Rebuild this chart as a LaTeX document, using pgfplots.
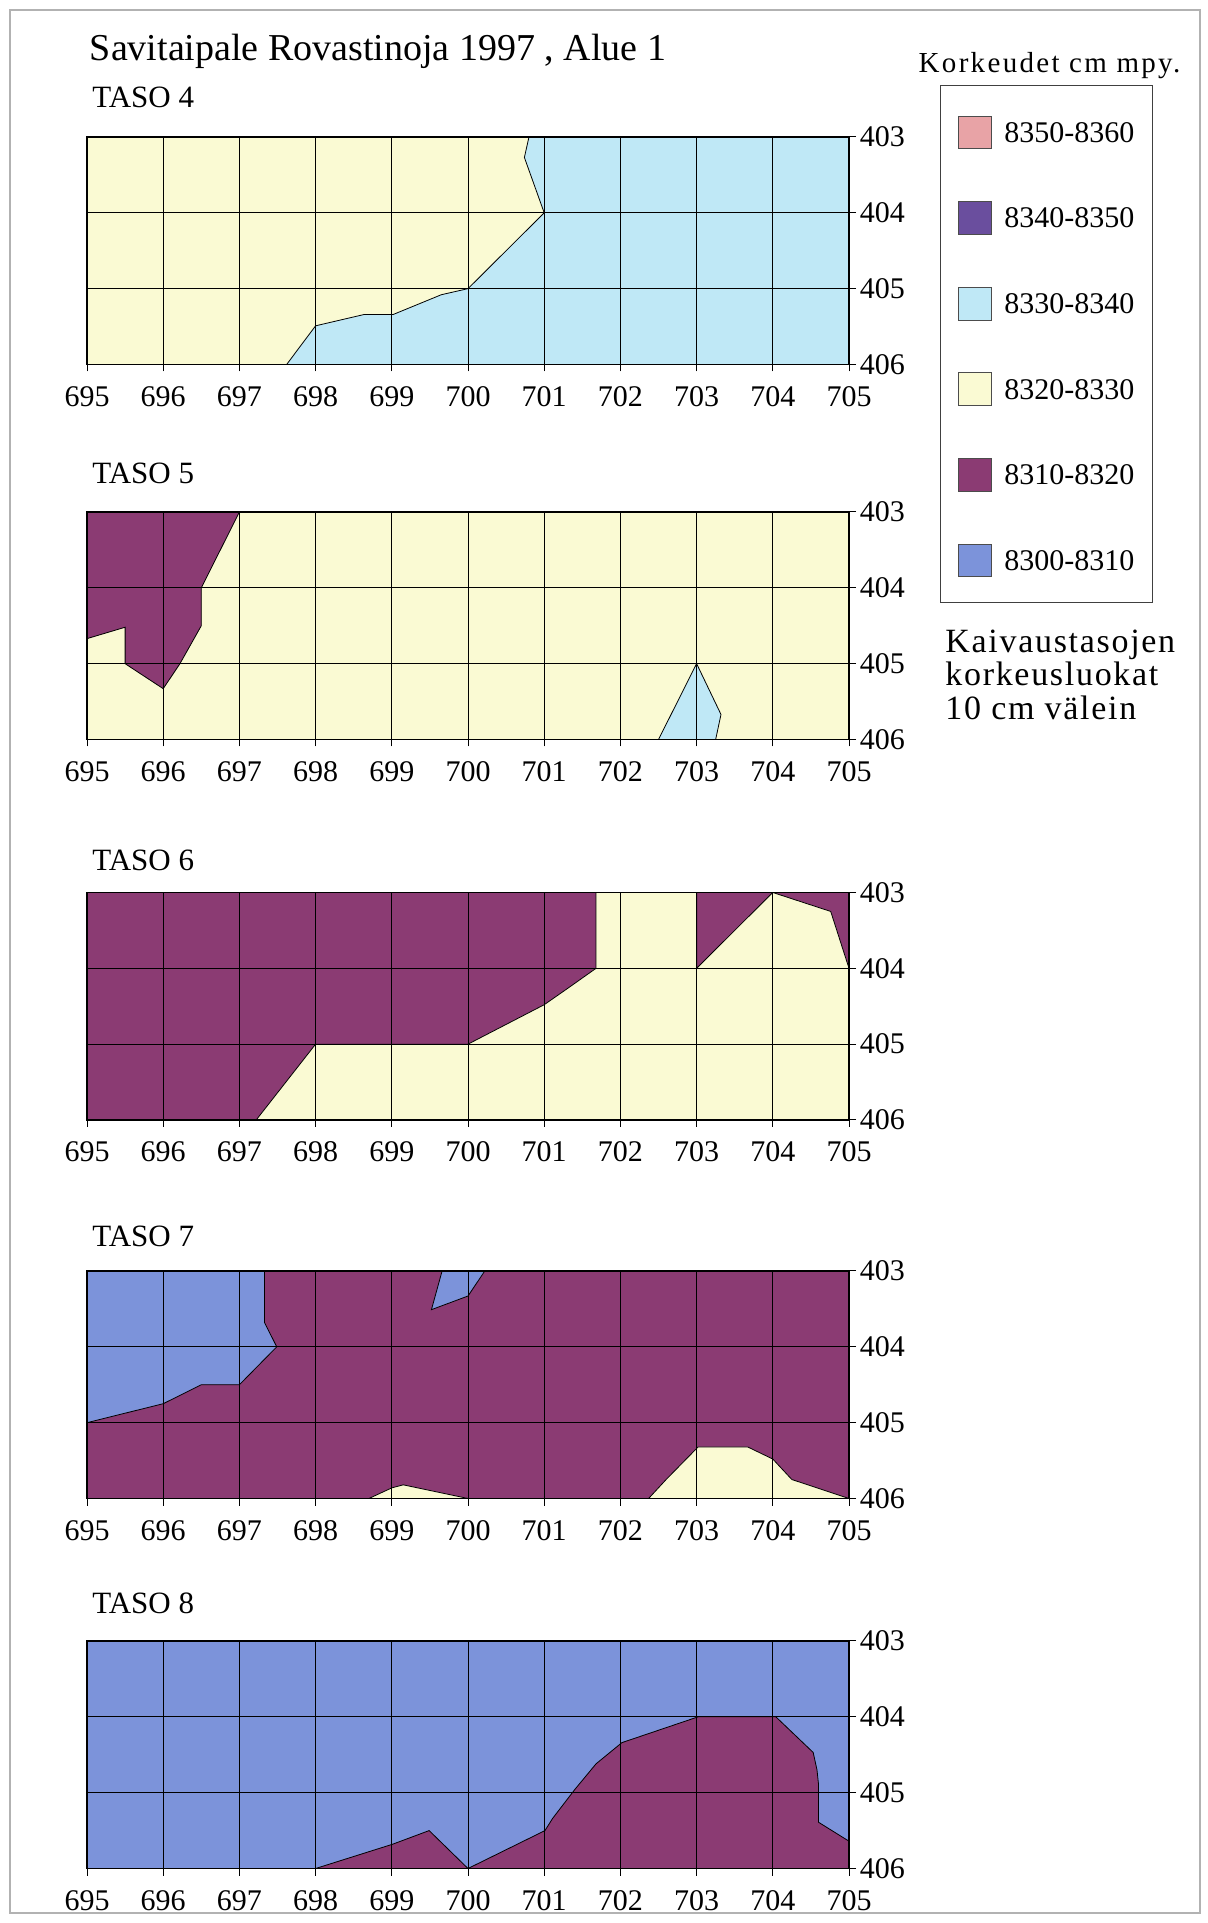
\documentclass[border=0pt]{standalone}
\usepackage{pgfplots}
\pgfplotsset{compat=1.18}
\usepackage{fontspec}
\setmainfont{Liberation Serif}
\newfontfamily\spacedfont{Liberation Serif}[LetterSpace=8]
\newfontfamily\spacedfontb{Liberation Serif}[LetterSpace=5]
\definecolor{cPink}{HTML}{E8A3A6}
\definecolor{cDPurp}{HTML}{6A4E9E}
\definecolor{cCyan}{HTML}{BFE8F6}
\definecolor{cYel}{HTML}{FAFAD3}
\definecolor{cPlum}{HTML}{8B3B73}
\definecolor{cBlue}{HTML}{7C93DA}
\pgfplotsset{
  panel/.style={
    scale only axis, width=381pt, height=113.75pt,
    anchor=north west,
    xmin=695, xmax=705, ymin=403, ymax=406, y dir=reverse,
    xtick={695,...,705}, ytick={403,...,406},
    xtick pos=left, ytick pos=right, yticklabel pos=right,
    tick align=outside, major tick length=3.5pt,
    grid=major, grid style={black, line width=0.5pt},
    axis line style={black, line width=0.6pt},
    tick style={black, line width=0.5pt},
    axis on top,
    /pgf/number format/assume math mode=true,
    ticklabel style={font=\fontsize{15}{15}\selectfont, inner sep=0pt},
    xticklabel shift=7.3pt,
    yticklabel shift=1.7pt,
    xticklabel style={anchor=north},
    yticklabel style={anchor=west},
    no markers,
  },
  poly/.style={draw=black, line width=0.4pt, fill=#1},
}
\begin{document}
\begin{tikzpicture}
\path[use as bounding box] (0,0) rectangle (604pt,961.5pt);
\draw[gray!60, line width=0.8pt] (5pt,5pt) rectangle (600pt,956.5pt);

% Title and panel labels
\node[anchor=base west, inner sep=0, font=\fontsize{19}{19}\selectfont] at (44.75pt,931pt) {Savitaipale Rovastinoja 1997 , Alue 1};
\node[anchor=base west, inner sep=0, font=\fontsize{15.5}{15.5}\selectfont] at (46pt,907.5pt) {TASO 4};
\node[anchor=base west, inner sep=0, font=\fontsize{15.5}{15.5}\selectfont] at (46pt,719.5pt) {TASO 5};
\node[anchor=base west, inner sep=0, font=\fontsize{15.5}{15.5}\selectfont] at (46pt,526pt) {TASO 6};
\node[anchor=base west, inner sep=0, font=\fontsize{15.5}{15.5}\selectfont] at (46pt,338pt) {TASO 7};
\node[anchor=base west, inner sep=0, font=\fontsize{15.5}{15.5}\selectfont] at (46pt,154.5pt) {TASO 8};

% TASO 4
\begin{axis}[panel, at={(43.5pt,893pt)}]
\addplot[poly=cYel] coordinates {(695,403)(705,403)(705,406)(695,406)(695,403)};
\addplot[poly=cCyan] coordinates {(700.8,403)(700.74,403.27)(701,404)(700,405)(699.65,405.08)(699.02,405.34)(698.64,405.34)(698,405.49)(697.62,406)(705,406)(705,403)(700.8,403)};
\end{axis}

% TASO 5
\begin{axis}[panel, at={(43.5pt,705.5pt)}]
\addplot[poly=cYel] coordinates {(695,403)(705,403)(705,406)(695,406)(695,403)};
\addplot[poly=cPlum] coordinates {(695,403)(697,403)(696.5,404)(696.5,404.5)(696.22,405)(696,405.33)(695.5,405)(695.5,404.52)(695,404.67)(695,403)};
\addplot[poly=cCyan] coordinates {(702.5,406)(703,405)(703.32,405.67)(703.25,406)(702.5,406)};
\end{axis}

% TASO 6
\begin{axis}[panel, at={(43.5pt,515.25pt)}]
\addplot[poly=cPlum] coordinates {(695,403)(705,403)(705,406)(695,406)(695,403)};
\addplot[poly=cYel] coordinates {(697.22,406)(698,405)(700,405)(701,404.48)(701.3,404.27)(701.68,404)(701.68,403)(703,403)(703,404)(704,403)(704.76,403.25)(705,404)(705,406)(697.22,406)};
\end{axis}

% TASO 7
\begin{axis}[panel, at={(43.5pt,326pt)}]
\addplot[poly=cPlum] coordinates {(695,403)(705,403)(705,406)(695,406)(695,403)};
\addplot[poly=cBlue] coordinates {(695,403)(697.33,403)(697.33,403.68)(697.49,404)(697,404.5)(696.5,404.5)(696,404.75)(695,405)(695,403)};
\addplot[poly=cBlue] coordinates {(699.66,403)(700.22,403)(700,403.33)(699.52,403.51)(699.66,403)};
\addplot[poly=cYel] coordinates {(698.7,406)(699,405.86)(699.15,405.82)(700,406)(698.7,406)};
\addplot[poly=cYel] coordinates {(702.37,406)(702.6,405.75)(703.02,405.32)(703.67,405.32)(704,405.48)(704.25,405.75)(705,406)(702.37,406)};
\end{axis}

% TASO 8
\begin{axis}[panel, at={(43.5pt,141pt)}]
\addplot[poly=cBlue] coordinates {(695,403)(705,403)(705,406)(695,406)(695,403)};
\addplot[poly=cPlum] coordinates {(698,406)(699.01,405.68)(699.49,405.5)(700,406)(701.01,405.5)(701.11,405.34)(701.4,404.96)(701.68,404.62)(702.02,404.34)(703.02,404)(704.04,404)(704.53,404.47)(704.58,404.7)(704.6,404.89)(704.6,405.39)(705,405.64)(705,406)(698,406)};
\end{axis}

% Legend
\node[anchor=base west, inner sep=0, font=\spacedfont\fontsize{14.5}{14.5}\selectfont] at (459.15pt,925.15pt) {Korkeudet cm mpy.};
\draw[black!75, line width=0.5pt] (470pt,660pt) rectangle (576.25pt,918.5pt);
\foreach \c/\t/\y in {cPink/8350-8360/895.25, cDPurp/8340-8350/852.45, cCyan/8330-8340/809.65, cYel/8320-8330/766.85, cPlum/8310-8320/724.05, cBlue/8300-8310/681.25}{
  \filldraw[fill=\c, draw=black!70, line width=0.4pt] (479.15pt,\y pt-8.2pt) rectangle ++(16.4pt,16.4pt);
  \node[anchor=west, inner sep=0, font=\fontsize{15}{15}\selectfont] at (502pt,\y pt) {\t};
}
\node[anchor=base west, inner sep=0, font=\spacedfontb\fontsize{17}{17}\selectfont] at (472.5pt,635.15pt) {Kaivaustasojen};
\node[anchor=base west, inner sep=0, font=\spacedfontb\fontsize{17}{17}\selectfont] at (472.5pt,618.5pt) {korkeusluokat};
\node[anchor=base west, inner sep=0, font=\spacedfontb\fontsize{17}{17}\selectfont] at (472.5pt,601.85pt) {10 cm välein};
\end{tikzpicture}
\end{document}
